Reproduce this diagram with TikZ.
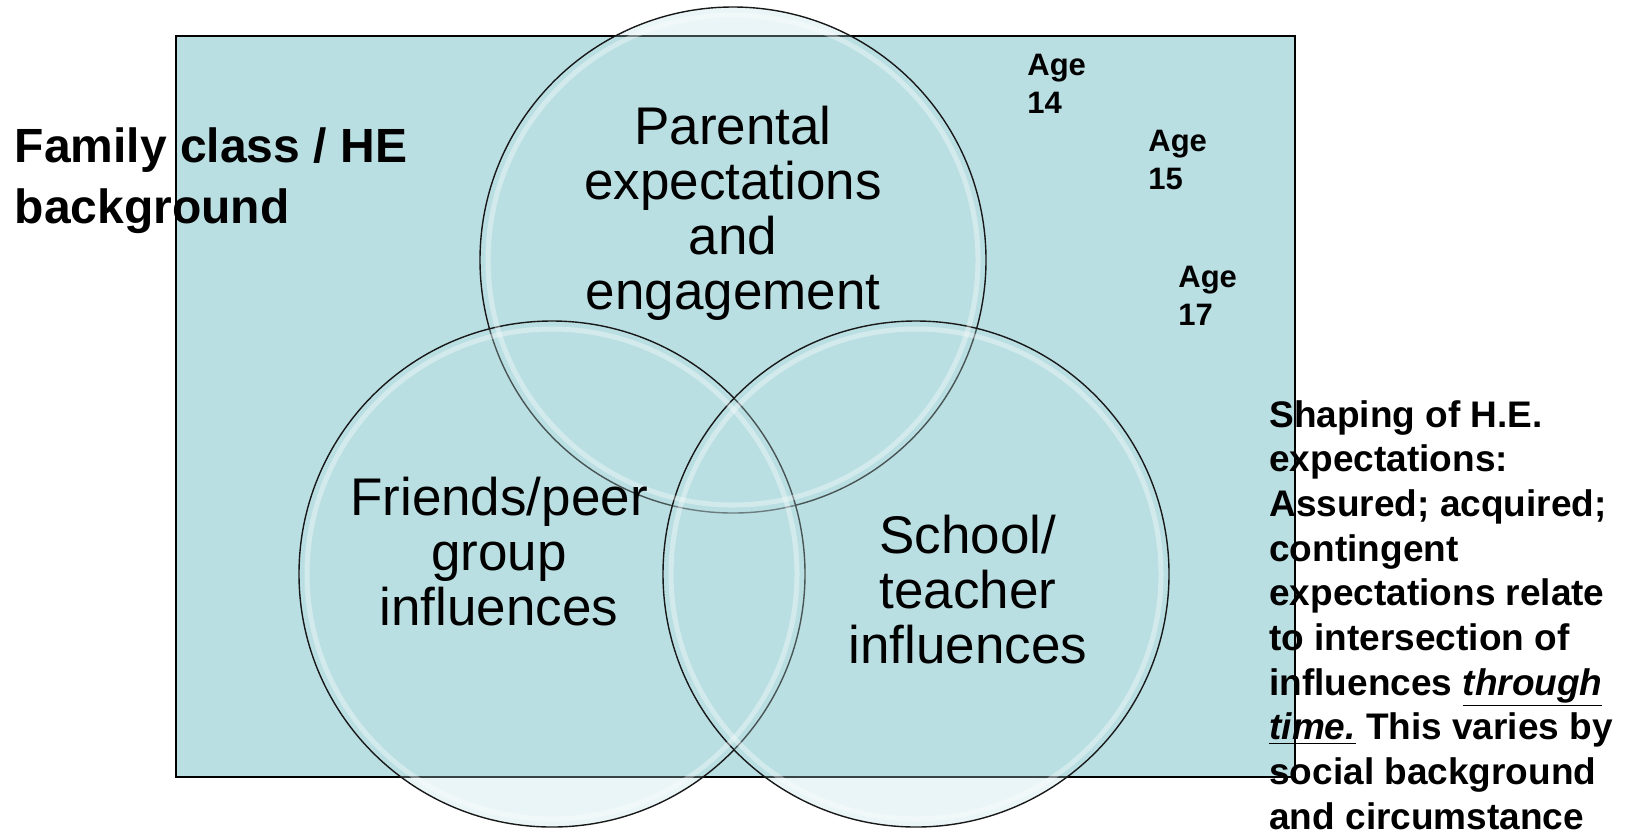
\documentclass[tikz,border=0pt]{standalone}
\usepackage{fontspec}
\setmainfont{Liberation Sans}
\definecolor{vennfill}{HTML}{BADFE3}

\begin{document}
\begin{tikzpicture}[x=0.5pt,y=-0.5pt,
    venn/.style={circle, draw=black!90, line width=0.7pt, fill=vennfill,
      fill opacity=0.3, minimum size=253pt, inner sep=0pt},
    rim/.style={draw=white, line width=2.5pt, opacity=0.35},
    inlabel/.style={align=center, inner sep=0pt,
      font=\fontsize{26.5}{27.5}\selectfont},
    agelabel/.style={anchor=west, align=left, inner sep=0pt,
      font=\bfseries\fontsize{15.5}{18.7}\selectfont}]
  \useasboundingbox (0,0) rectangle (1626,832);

  % background field
  \node[draw, line width=0.75pt, fill=vennfill, anchor=north west,
    minimum width=559.5pt, minimum height=370.5pt, inner sep=0pt] (field) at (175,35) {};

  % the three influences
  \node[venn] (parent) at (733,260) {};
  \node[venn] (peers) at (552,574) {};
  \node[venn] (school) at (916,574) {};
  \foreach \c in {parent,peers,school}
    \draw[rim] (\c) circle (245);

  \node[inlabel] (parentlbl) at (733,213) {Parental\\expectations\\and\\engagement};
  \node[inlabel] (peerslbl) at (499,552) {Friends/peer\\group\\influences};
  \node[inlabel] (schoollbl) at (968,590) {School/\\teacher\\influences};

  \node[anchor=west, align=left, inner sep=0pt,
    font=\bfseries\fontsize{24}{30.5}\selectfont] (family) at (14.5,181) {Family class / HE\\background};

  \node[agelabel] (age14) at (1027,84) {Age\\14};
  \node[agelabel] (age15) at (1148,160) {Age\\15};
  \node[agelabel] (age17) at (1178,296) {Age\\17};

  \node[anchor=west, align=left, inner sep=0pt,
    font=\bfseries\fontsize{18.5}{22.35}\selectfont] (shaping) at (1269,615)
    {Shaping of H.E.\\expectations:\\Assured; acquired;\\contingent\\expectations relate\\to intersection of\\influences \underline{\textit{through}}\\\underline{\textit{time.}} This varies by\\social background\\and circumstance};
\end{tikzpicture}
\end{document}
